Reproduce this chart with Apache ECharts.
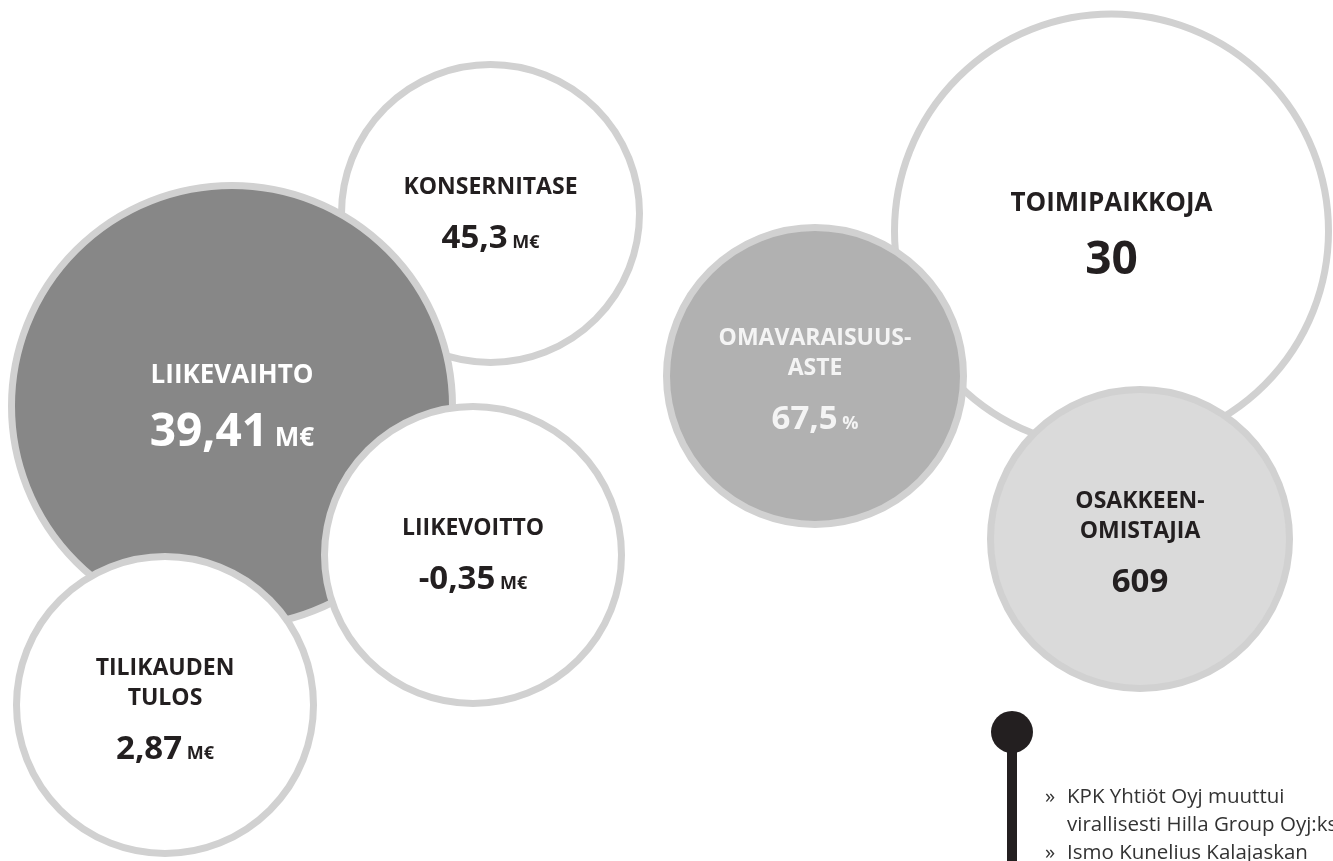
<!DOCTYPE html>
<html>
<head>
<meta charset="utf-8">
<script src="https://cdn.jsdelivr.net/npm/echarts@6/dist/echarts.min.js"></script>
<style>
html,body{margin:0;padding:0;background:#fff;}
#c{width:1333px;height:861px;}
</style>
</head>
<body>
<div id="c"></div>
<script>
// ---- data ----
const titles = ['KONSERNITASE', 'LIIKEVAIHTO', 'LIIKEVOITTO', 'TILIKAUDEN\nTULOS', 'TOIMIPAIKKOJA', 'OMAVARAISUUS-\nASTE', 'OSAKKEEN-\nOMISTAJIA'];
const values = [45.3, 39.41, -0.35, 2.87, 30, 67.5, 609];
const units = ['M€', 'M€', 'M€', 'M€', '', '%', ''];
const noteBullets = ['»', '', '»'];
const noteLines = ['KPK Yhtiöt Oyj muuttui', 'virallisesti Hilla Group Oyj:ksi', 'Ismo Kunelius Kalajaskan'];

// ---- layout (positions / sizes / styles) ----
const centersX = [490.5, 232, 473, 165, 1111.5, 815, 1140];
const centersY = [213.5, 406, 555, 705, 231, 376, 539];
const outerR = [152.5, 224, 152, 152, 220.5, 152, 153];
const labelOff = [10, 11, 9, 14, 14, 13, 13];
const fills = ['#ffffff', '#878787', '#ffffff', '#ffffff', '#ffffff', '#b1b1b1', '#dadada'];
const textColors = ['#231f20', '#ffffff', '#231f20', '#231f20', '#231f20', '#f4f4f4', '#231f20'];
const big = [false, true, false, false, true, false, false];
const BORDER = 7;
const timelineX = 1012, timelineTop = 732, timelineBottom = 861;

const fmt = v => String(v).replace('.', ',');

const FONT = '"Open Sans", "Noto Sans", sans-serif';
const richSmall = {
  t: {fontFamily: FONT, fontWeight: 700, fontSize: 23, lineHeight: 30},
  v: {fontFamily: FONT, fontWeight: 700, fontSize: 33, lineHeight: 72},
  u: {fontFamily: FONT, fontWeight: 700, fontSize: 18, padding: [9, 0, 0, 0]}
};
const richBig = {
  t: {fontFamily: FONT, fontWeight: 700, fontSize: 26, lineHeight: 32},
  v: {fontFamily: FONT, fontWeight: 700, fontSize: 46, lineHeight: 84},
  u: {fontFamily: FONT, fontWeight: 700, fontSize: 26, padding: [11, 0, 0, 0]}
};

const bubbleData = titles.map((t, i) => {
  const titlePart = t.split('\n').map(s => '{t|' + s + '}').join('\n');
  const valPart = '{v|' + fmt(values[i]) + '}' + (units[i] ? '{u| ' + units[i] + '}' : '');
  const size = 2 * outerR[i] - BORDER;
  return {
    name: t,
    value: [centersX[i], centersY[i]],
    symbolSize: size,
    itemStyle: {color: fills[i], borderColor: '#d1d1d1', borderWidth: BORDER, opacity: 1},
    label: {
      show: true,
      position: ['50%', (50 + labelOff[i] / size * 100) + '%'],
      color: textColors[i],
      align: 'center',
      verticalAlign: 'middle',
      formatter: titlePart + '\n' + valPart,
      rich: big[i] ? richBig : richSmall
    }
  };
});

const chart = echarts.init(document.getElementById('c'), null, {renderer: 'canvas'});
chart.setOption({
  animation: false,
  backgroundColor: '#ffffff',
  grid: {left: 0, right: 0, top: 0, bottom: 0, containLabel: false},
  xAxis: {type: 'value', min: 0, max: 1333, show: false},
  yAxis: {type: 'value', min: 0, max: 861, inverse: true, show: false},
  series: [
    {
      type: 'scatter',
      symbol: 'circle',
      clip: false,
      silent: true,
      itemStyle: {opacity: 1},
      data: bubbleData
    },
    {
      type: 'line',
      silent: true,
      clip: false,
      lineStyle: {color: '#231f20', width: 10},
      itemStyle: {color: '#231f20', opacity: 1},
      showSymbol: true,
      data: [
        {value: [timelineX, timelineTop], symbol: 'circle', symbolSize: 42},
        {value: [timelineX, timelineBottom], symbol: 'none'}
      ]
    }
  ],
  graphic: noteLines.map((s, i) => ({
    type: 'group',
    x: 1045,
    y: 797 + i * 28,
    silent: true,
    children: [
      {type: 'text', style: {text: noteBullets[i], x: 0, y: 0, font: '20.5px ' + FONT, fill: '#333333', verticalAlign: 'middle'}},
      {type: 'text', style: {text: s, x: 22, y: 0, font: '20.5px ' + FONT, fill: '#333333', verticalAlign: 'middle'}}
    ]
  }))
});
</script>
</body>
</html>
